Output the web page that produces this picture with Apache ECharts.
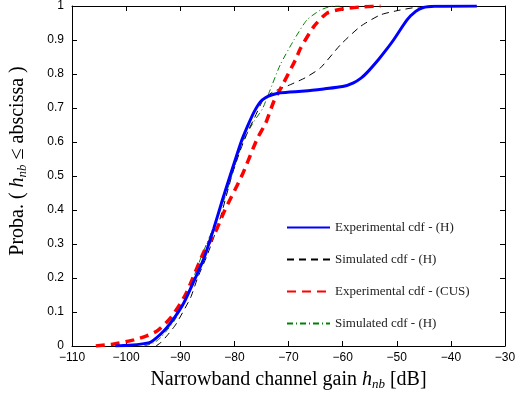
<!DOCTYPE html>
<html><head><meta charset="utf-8">
<script src="https://cdn.jsdelivr.net/npm/echarts@6/dist/echarts.min.js"></script>
<style>html,body{margin:0;padding:0;background:#fff}#c{width:526px;height:396px}</style>
</head><body><div id="c"></div>
<script>
// ---- data (x in dB, y = probability) ----
var xTicks = [-110,-100,-90,-80,-70,-60,-50,-40,-30];
var yTicks = [0,0.1,0.2,0.3,0.4,0.5,0.6,0.7,0.8,0.9,1];
var seriesNames = ['Experimental cdf - (H)','Simulated cdf - (H)','Experimental cdf - (CUS)','Simulated cdf - (H) '];

var expH = [[-102,0],[-99.5,0.002],[-96.7,0.007],[-95.4,0.012],[-93.0,0.045],[-91.1,0.083],[-89.3,0.128],[-87.5,0.19],
  [-85.6,0.259],[-83.8,0.346],[-82.2,0.430],[-80.7,0.505],[-78.8,0.598],[-77.6,0.645],[-76.4,0.687],[-75.2,0.718],
  [-74.2,0.731],[-73.0,0.739],[-71.5,0.745],[-67,0.750],[-63.5,0.756],[-60,0.763],[-58.0,0.774],[-56.6,0.788],[-55.5,0.804],
  [-53.4,0.842],[-52,0.870],[-50.6,0.90],[-48.1,0.959],[-46.5,0.984],[-45.2,0.995],[-43,0.999],[-35.2,1]];
var simH = [[-94.5,0],[-93.6,0.01],[-92.2,0.035],[-90.8,0.064],[-88.1,0.142],[-86.8,0.2],[-85.0,0.268],[-82.8,0.366],
  [-80.4,0.505],[-78.8,0.58],[-77.3,0.638],[-76.4,0.667],[-74.6,0.726],[-72.8,0.748],[-71.5,0.757],[-69.6,0.769],
  [-66.9,0.789],[-64.1,0.818],[-60.4,0.886],[-56.7,0.94],[-53.0,0.974],[-49.4,0.988],[-45.7,0.998],[-43.5,1]];
var expCUS = [[-105.6,0],[-102.2,0.006],[-98.5,0.018],[-96.2,0.030],[-94.2,0.045],[-91.7,0.084],[-89.0,0.152],
  [-85.6,0.278],[-83.5,0.335],[-81.9,0.395],[-78.5,0.505],[-75.8,0.609],[-74.2,0.656],[-72.7,0.720],[-71.2,0.765],
  [-68.7,0.842],[-67.8,0.875],[-65.3,0.94],[-62.9,0.979],[-59.8,0.992],[-56,0.998],[-53,1]];
var simH2 = [[-96.7,0],[-95,0.008],[-93.6,0.025],[-91.1,0.074],[-88.7,0.152],[-86.2,0.259],[-84.1,0.34],[-81.9,0.43],
  [-80.1,0.521],[-78.2,0.609],[-76.4,0.66],[-74.8,0.698],[-73.6,0.745],[-71.5,0.828],[-69.0,0.90],[-66.6,0.959],
  [-64.1,0.988],[-61.7,1],[-60.5,1]];

var chart = echarts.init(document.getElementById('c'), null, {renderer:'canvas'});
var minus = function(v){ return String(v).replace('-', '\u2212'); };
var tickFont = {fontFamily:'Liberation Sans', fontSize:12, color:'#000'};
var serif = 'Liberation Serif';
var baseAxis = {
  axisLine:{show:true,onZero:false,lineStyle:{color:'#000',width:1}},
  axisTick:{show:true,inside:true,length:5,lineStyle:{color:'#000'}},
  splitLine:{show:false}
};
var titleRich = {a:{fontFamily:serif,fontSize:20,color:'#000'},
  i:{fontFamily:serif,fontStyle:'italic',fontSize:20,color:'#000'},
  s:{fontFamily:serif,fontStyle:'italic',fontSize:13,color:'#000',padding:[9,0,0,0]}};
chart.setOption({
  animation:false,
  backgroundColor:'#fff',
  grid:{left:71,right:21,top:6,bottom:47},
  xAxis:[
    Object.assign({type:'value',min:-110,max:-30,interval:10,position:'bottom',
      axisLabel:Object.assign({formatter:minus,margin:6},tickFont),
      name:'{a|Narrowband channel gain }{i|h}{s|nb}{a| [dB]}',nameLocation:'middle',nameGap:23,
      nameTextStyle:{rich:titleRich}
    },baseAxis),
    Object.assign({type:'value',min:-110,max:-30,interval:10,position:'top',axisLabel:{show:false}},baseAxis)
  ],
  yAxis:[
    Object.assign({type:'value',min:0,max:1,interval:0.1,position:'left',
      axisLabel:Object.assign({margin:8},tickFont),
      name:'{a|Proba. ( }{i|h}{s|nb}{a| \u2264 abscissa )}',nameLocation:'middle',nameGap:43,nameRotate:90,
      nameTextStyle:{rich:titleRich,padding:[0,0,0,30]}
    },baseAxis),
    Object.assign({type:'value',min:0,max:1,interval:0.1,position:'right',axisLabel:{show:false}},baseAxis)
  ],
  legend:{
    orient:'vertical',left:281,top:216,itemWidth:43,itemHeight:12,itemGap:19,
    itemStyle:{opacity:0},
    textStyle:{fontFamily:serif,fontSize:13,color:'#222'},
    data:seriesNames
  },
  series:[
    {name:seriesNames[0],type:'line',data:expH,smooth:0.2,showSymbol:false,symbol:'none',z:5,
      lineStyle:{color:'#0000ff',width:3},itemStyle:{color:'#0000ff'}},
    {name:seriesNames[1],type:'line',data:simH,smooth:0.2,showSymbol:false,symbol:'none',z:3,
      lineStyle:{color:'#000',width:1,type:[7,5]},itemStyle:{color:'#000'}},
    {name:seriesNames[2],type:'line',data:expCUS,smooth:0.2,showSymbol:false,symbol:'none',z:4,
      lineStyle:{color:'#ff0000',width:3.5,type:[9,6]},itemStyle:{color:'#ff0000'}},
    {name:seriesNames[3],type:'line',data:simH2,smooth:0.2,showSymbol:false,symbol:'none',z:2,
      lineStyle:{color:'#008000',width:1,type:[6,3,1,3]},itemStyle:{color:'#008000'}}
  ]
});
</script></body></html>
